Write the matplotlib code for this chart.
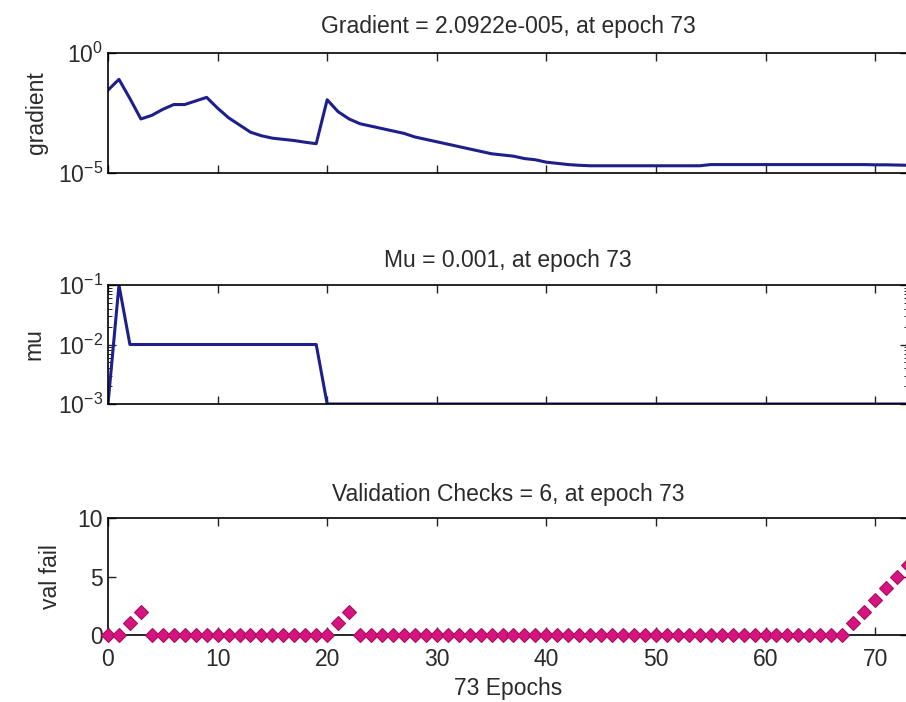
import numpy as np
import matplotlib
matplotlib.use('Agg')
import matplotlib.pyplot as plt
from matplotlib.ticker import LogLocator, NullFormatter, FixedLocator

plt.rcParams['font.family'] = ['Liberation Sans', 'DejaVu Sans']
plt.rcParams['mathtext.fontset'] = 'custom'
plt.rcParams['mathtext.rm'] = 'Liberation Sans'
plt.rcParams['mathtext.it'] = 'Liberation Sans:italic'
plt.rcParams['text.color'] = '#2a2a2a'
plt.rcParams['axes.labelcolor'] = '#2a2a2a'

epochs = np.arange(0, 74)

# log10 of the gradient (epochs 0..73)
grad_log = [-1.55, -1.10, -1.90, -2.75, -2.60, -2.35, -2.15, -2.15, -2.00, -1.85,
            -2.30, -2.70, -3.00, -3.30, -3.45, -3.55, -3.60, -3.65, -3.72, -3.78,
            -1.95, -2.45, -2.75, -2.95, -3.05, -3.15, -3.25, -3.35, -3.50, -3.60,
            -3.70, -3.80, -3.90, -4.00, -4.10, -4.20, -4.25, -4.30, -4.40, -4.45,
            -4.55, -4.60, -4.65, -4.68, -4.70, -4.70, -4.70, -4.70, -4.70, -4.70,
            -4.70, -4.70, -4.70, -4.70, -4.70, -4.65, -4.65, -4.65, -4.65, -4.65,
            -4.65, -4.65, -4.65, -4.65, -4.65, -4.65, -4.65, -4.65, -4.65, -4.65,
            -4.66, -4.66, -4.67, -4.68]
gradient = 10.0 ** np.array(grad_log)

# mu per epoch
mu = [1e-3, 1e-1] + [1e-2] * 18 + [1e-3] * 54

# validation fails per epoch
val_fail = ([0, 0, 1, 2] + [0] * 17 + [1, 2] + [0] * 45 + [1, 2, 3, 4, 5, 6])

line_col = '#1f1f8c'
mark_col = '#d6137f'
fs = 16.5

fig = plt.figure(figsize=(9.06, 7.02), dpi=100)
ax1 = fig.add_axes([0.1192, 0.7536, 0.883, 0.171])
ax2 = fig.add_axes([0.1192, 0.4245, 0.883, 0.1695])
ax3 = fig.add_axes([0.1192, 0.0954, 0.883, 0.1667])

for ax in (ax1, ax2, ax3):
    ax.set_xlim(0, 73)
    ax.set_xticks(np.arange(0, 80, 10))
    ax.tick_params(direction='in', top=True, right=True, length=6, width=1,
                   labelsize=fs, colors='#222222', labelcolor='#2a2a2a')
    for s in ax.spines.values():
        s.set_linewidth(1.2)

# gradient panel
ax1.semilogy(epochs, gradient, color=line_col, lw=2.2)
ax1.set_ylim(1e-5, 1e0)
ax1.yaxis.set_major_locator(FixedLocator([1e-5, 1e0]))
ax1.yaxis.set_minor_locator(FixedLocator([]))
ax1.set_xticklabels([])
ax1.set_ylabel('gradient', fontsize=fs)
ax1.yaxis.set_label_coords(-0.075, 0.5)
ax1.set_title('Gradient = 2.0922e-005, at epoch 73', fontsize=fs, pad=14)

# mu panel
ax2.semilogy(epochs, mu, color=line_col, lw=2.2)
ax2.set_ylim(1e-3, 1e-1)
ax2.yaxis.set_major_locator(LogLocator(base=10))
ax2.yaxis.set_minor_locator(LogLocator(base=10, subs=np.arange(2, 10)))
ax2.yaxis.set_minor_formatter(NullFormatter())
ax2.tick_params(which='minor', direction='in', left=True, right=True, length=3)
ax2.set_xticklabels([])
ax2.set_ylabel('mu', fontsize=fs)
ax2.yaxis.set_label_coords(-0.078, 0.5)
ax2.set_title('Mu = 0.001, at epoch 73', fontsize=fs, pad=13)

# validation checks panel
ax3.plot(epochs, val_fail, linestyle='none', marker='D', markersize=7.5,
         markerfacecolor=mark_col, markeredgecolor='#a8105f', markeredgewidth=0.8,
         clip_on=False, zorder=3)
ax3.set_ylim(0, 10)
ax3.set_yticks([0, 5, 10])
ax3.tick_params(axis='x', pad=9)
ax3.set_ylabel('val fail', fontsize=fs)
ax3.yaxis.set_label_coords(-0.058, 0.5)
ax3.set_xlabel('73 Epochs', fontsize=fs, labelpad=5)
ax3.set_title('Validation Checks = 6, at epoch 73', fontsize=fs, pad=12)

fig.savefig('out.png', dpi=100)
